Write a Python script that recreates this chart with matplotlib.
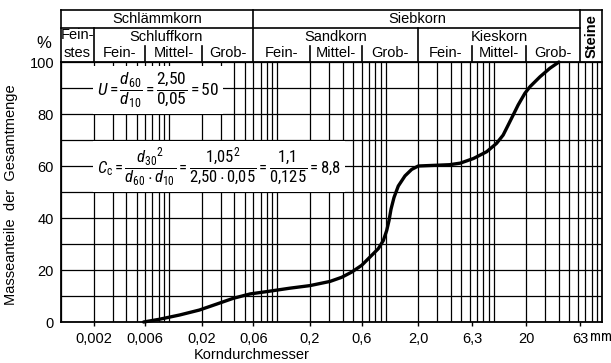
import numpy as np
import matplotlib
matplotlib.use("Agg")
import matplotlib.pyplot as plt
from matplotlib import font_manager as fm
from matplotlib.transforms import blended_transform_factory
from matplotlib.ticker import FixedLocator, LogLocator, MultipleLocator, NullFormatter

# Grain size distribution curve (sieve and sedimentation analysis)
diameter_mm = [0.0058, 0.008, 0.0125, 0.019, 0.0275, 0.039, 0.056, 0.08, 0.13, 0.2,
               0.306, 0.393, 0.486, 0.601, 0.718, 0.856, 0.952, 1.024, 1.075, 1.122,
               1.196, 1.31, 1.511, 1.743, 2.006, 3.0, 3.9, 4.9, 6.5, 8.6,
               10.6, 12.2, 13.6, 15.1, 16.8, 19.4, 21.6, 26.7, 33.0, 40.0]
passing_pct = [0.0, 1.0, 2.7, 4.6, 6.9, 9.1, 10.8, 11.7, 13.0, 14.0,
               15.6, 17.2, 19.2, 21.8, 25.0, 28.2, 31.3, 35.2, 39.0, 43.4,
               47.9, 52.3, 56.2, 58.7, 60.0, 60.3, 60.5, 61.1, 62.9, 65.5,
               68.7, 71.9, 75.8, 79.6, 83.5, 88.0, 90.5, 94.3, 97.6, 100.0]

x_ticks = [0.002, 0.006, 0.02, 0.06, 0.2, 0.6, 2.0, 6.3, 20, 63]
x_tick_labels = ["0,002", "0,006", "0,02", "0,06", "0,2", "0,6", "2,0", "6,3", "20", "63"]
y_ticks = [0, 20, 40, 60, 80, 100]

# Soil classes for the header (name, lower bound, upper bound in mm)
main_classes = [("Schlämmkorn", 0.001, 0.06), ("Siebkorn", 0.06, 63)]
soil_types = [("Schluffkorn", 0.002, 0.06), ("Sandkorn", 0.06, 2.0), ("Kieskorn", 2.0, 63)]
fraction_names = ["Fein-", "Mittel-", "Grob-"]
fraction_bounds = [0.002, 0.006, 0.02, 0.06, 0.2, 0.6, 2.0, 6.3, 20, 63]


def available(*candidates):
    names = {e.name for e in fm.fontManager.ttflist}
    for want in candidates:
        if want in names:
            return want
    return None


family = available("Liberation Sans", "Arimo") or "DejaVu Sans"
narrow = available("Liberation Sans Narrow", "DejaVu Sans Condensed",
                   "Roboto Condensed", "Open Sans Condensed")
plt.rcParams["font.family"] = [family, "DejaVu Sans"]
math_family = narrow or family
plt.rcParams["mathtext.fontset"] = "custom"
plt.rcParams["mathtext.rm"] = math_family
plt.rcParams["mathtext.it"] = math_family + ":italic"
plt.rcParams["mathtext.bf"] = math_family + ":bold"
FS = 10.5
FS_MATH = 12 if narrow else 10.5

W, H = 611, 363
L, R, T, B = 61, 602, 62, 322
fig = plt.figure(figsize=(W / 100, H / 100), dpi=100)
ax = fig.add_axes([L / W, 1 - B / H, (R - L) / W, (B - T) / H])
ax.set_xscale("log")
ax.set_xlim(0.001, 100)
ax.set_ylim(0, 100)

# Log grid in x, 10 % steps in y
ax.xaxis.remove_overlapping_locs = False
ax.yaxis.remove_overlapping_locs = False
ax.xaxis.set_major_locator(FixedLocator(x_ticks))
ax.xaxis.set_major_formatter(plt.FixedFormatter(x_tick_labels))
ax.xaxis.set_minor_locator(LogLocator(base=10, subs=np.arange(1, 10), numticks=20))
ax.xaxis.set_minor_formatter(NullFormatter())
ax.yaxis.set_major_locator(FixedLocator(y_ticks))
ax.yaxis.set_minor_locator(MultipleLocator(10))
ax.grid(which="minor", axis="both", color="black", linewidth=0.9)
ax.tick_params(axis="x", which="major", length=3, width=1, direction="out",
               labelsize=FS, pad=4)
ax.tick_params(axis="x", which="minor", length=0)
ax.tick_params(axis="y", which="both", length=0, labelsize=FS, pad=5)
for sp in ax.spines.values():
    sp.set_linewidth(1.3)

ax.plot(diameter_mm, passing_pct, color="black", linewidth=2.4,
        solid_capstyle="round", solid_joinstyle="round", zorder=5, clip_on=False)

# Formula boxes
box = dict(facecolor="white", edgecolor="none", boxstyle="square,pad=0.25")
ax.text(0.00215, 89.3,
        r"$U=\dfrac{d_{60}}{d_{10}}=\dfrac{2{,}50}{0{,}05}=50$",
        fontsize=FS_MATH + 0.5, ha="left", va="center", bbox=box, zorder=3)
ax.text(0.00215, 59.8,
        r"$C_{\mathrm{c}}=\dfrac{{d_{30}}^2}{d_{60}\cdot d_{10}}=\dfrac{1{,}05^2}{2{,}50\cdot 0{,}05}"
        r"=\dfrac{1{,}1}{0{,}125}=8{,}8$",
        fontsize=FS_MATH, ha="left", va="center", bbox=box, zorder=3)

# Header table above the plot
tr = blended_transform_factory(ax.transData, ax.transAxes)
y_top, y_mid, y_sub = 1.2, 1.1308, 1.0615
lw = 1.2


def hline(x0, x1, y):
    ax.plot([x0, x1], [y, y], color="black", lw=lw, transform=tr, clip_on=False)


def vline(x, y0, y1):
    ax.plot([x, x], [y0, y1], color="black", lw=lw, transform=tr, clip_on=False)


hline(0.001, 100, y_top)
hline(0.001, 63, y_mid)
vline(0.001, 1.0, y_top)
vline(100, 1.0, y_top)
vline(0.06, 1.0, y_top)
vline(63, 1.0, y_top)
vline(0.002, 1.0, y_mid)
vline(2.0, 1.0, y_mid)
for b in fraction_bounds[1:-1]:
    if b not in (0.06, 2.0):
        vline(b, 1.0, y_sub)


def gmean(a, b):
    return float(np.sqrt(a * b))


for name, lo, hi in main_classes:
    ax.text(gmean(lo, hi), (y_top + y_mid) / 2, name, transform=tr, ha="center",
            va="center", fontsize=FS)
for name, lo, hi in soil_types:
    ax.text(gmean(lo, hi) * (0.85 if lo == 0.002 else 1.0), 1.098, name, transform=tr,
            ha="center", va="center", fontsize=FS)
for i in range(len(fraction_bounds) - 1):
    ax.text(gmean(fraction_bounds[i], fraction_bounds[i + 1]), 1.034,
            fraction_names[i % 3], transform=tr, ha="center", va="center", fontsize=FS)
ax.text(gmean(0.001, 0.002), 1.102, "Fein-", transform=tr, ha="center", va="center",
        fontsize=FS)
ax.text(gmean(0.001, 0.002), 1.034, "stes", transform=tr, ha="center", va="center",
        fontsize=FS)
ax.text(gmean(63, 100), 1.1, "Steine", transform=tr, ha="center", va="center",
        rotation=90, fontsize=FS, fontweight="bold")

# Axis annotations
fig.text(44 / W, 1 - 44 / H, "%", ha="center", va="center", fontsize=FS + 1.5)
fig.text(590 / W, 1 - 341 / H, "mm", ha="left", va="baseline", fontsize=10.5,
         family=[narrow or family, "DejaVu Sans"])
fig.text(252 / W, 1 - 355 / H, "Korndurchmesser", ha="center", va="center", fontsize=FS)
fig.text(11 / W, 1 - 195 / H, "Masseanteile  der  Gesamtmenge", ha="center",
         va="center", rotation=90, fontsize=FS)

fig.savefig("out.png", dpi=100)
